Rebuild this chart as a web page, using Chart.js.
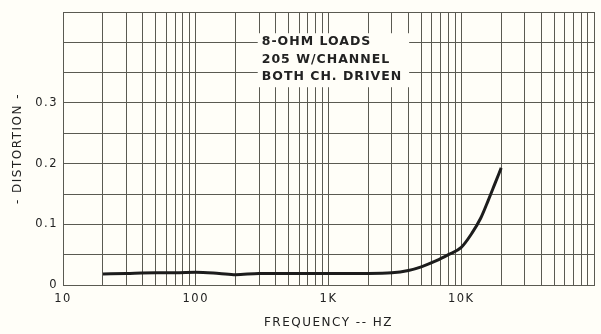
<!DOCTYPE html>
<html>
<head>
<meta charset="utf-8">
<script src="https://cdn.jsdelivr.net/npm/chart.js@4.4.1/dist/chart.umd.min.js"></script>
<style>
  html, body { margin: 0; padding: 0; background: #fffef8; }
  #wrap { width: 601px; height: 334px; position: relative; }
</style>
</head>
<body>
<div id="wrap"><canvas id="c" width="601" height="334"></canvas></div>
<script>
// ---- data ----
const freqHz = [20, 30, 50, 70, 100, 150, 200, 300, 500, 700, 1000, 1500, 2000, 3000, 4000, 5000, 6500, 8000, 10000, 12000, 14000, 16000, 18000, 20000];
const distortion = [0.018, 0.019, 0.020, 0.020, 0.021, 0.019, 0.017, 0.019, 0.019, 0.019, 0.019, 0.019, 0.019, 0.020, 0.024, 0.030, 0.040, 0.050, 0.062, 0.085, 0.110, 0.140, 0.168, 0.193];
const xTickValues = [10, 100, 1000, 10000];
const xTickLabels = ['10', '100', '1K', '10K'];
const yTickValues = [0, 0.1, 0.2, 0.3];
const yTickLabels = ['0', '0.1', '0.2', '0.3'];
const noteLines = ['8-OHM LOADS', '205 W/CHANNEL', 'BOTH CH. DRIVEN'];
const xTitle = 'FREQUENCY -- HZ';
const yTitle = '- DISTORTION -';

// grid lines of log paper: 1..9 per decade
const xGrid = [];
for (let d = 10; d < 100000; d *= 10) for (let m = 1; m < 10; m++) xGrid.push(m * d);
xGrid.push(100000);

const INK = '#222';
const GRID = '#5a5a52';
const FONT = 'DejaVu Sans';

const bgPlugin = {
  id: 'bg',
  beforeDraw(chart) {
    const ctx = chart.ctx;
    ctx.save();
    ctx.fillStyle = '#fffef8';
    ctx.fillRect(0, 0, chart.width, chart.height);
    ctx.restore();
    ctx.letterSpacing = '1.5px';
  },
  afterDraw(chart) { chart.ctx.letterSpacing = '0px'; }
};

const notePlugin = {
  id: 'note',
  afterDatasetsDraw(chart) {
    const ctx = chart.ctx;
    const xs = chart.scales.x, ys = chart.scales.y;
    const x0 = xs.getPixelForValue(293), x1 = xs.getPixelForValue(4050);
    const y0 = ys.getPixelForValue(0.415), y1 = ys.getPixelForValue(0.326);
    ctx.save();
    ctx.fillStyle = '#fffef8';
    ctx.fillRect(x0, y0, x1 - x0, y1 - y0);
    ctx.fillStyle = INK;
    ctx.font = 'bold 12.5px "' + FONT + '"';
    ctx.letterSpacing = '1px';
    ctx.textBaseline = 'middle';
    ctx.textAlign = 'left';
    noteLines.forEach((t, i) => ctx.fillText(t, x0 + 4, y0 + 9 + i * 17.5));
    ctx.restore();
  }
};

new Chart(document.getElementById('c'), {
  type: 'line',
  data: {
    datasets: [{
      data: freqHz.map((f, i) => ({ x: f, y: distortion[i] })),
      borderColor: '#1c1c1c',
      borderWidth: 3,
      pointRadius: 0,
      cubicInterpolationMode: 'monotone',
      fill: false
    }]
  },
  options: {
    responsive: false,
    animation: false,
    devicePixelRatio: 1,
    layout: { padding: { top: 12, right: 1, left: 0, bottom: 0 } },
    plugins: { legend: { display: false }, tooltip: { enabled: false } },
    scales: {
      x: {
        type: 'logarithmic',
        min: 10, max: 100000,
        afterBuildTicks(s) { s.ticks = xGrid.map(v => ({ value: v })); },
        afterFit(s) { s.height = 49; },
        grid: { color: GRID, lineWidth: 1, drawTicks: false },
        border: { color: GRID, width: 1 },
        ticks: {
          autoSkip: false, maxRotation: 0, minRotation: 0, padding: 7,
          color: INK, font: { family: FONT, size: 11.5 },
          callback(v) { const i = xTickValues.indexOf(v); return i >= 0 ? xTickLabels[i] : ''; }
        },
        title: {
          display: true, text: xTitle, color: INK,
          font: { family: FONT, size: 12 },
          padding: { top: 0, bottom: 4 }
        }
      },
      y: {
        min: 0, max: 0.45,
        afterBuildTicks(s) {
          const t = [];
          for (let k = 0; k <= 9; k++) t.push({ value: k * 0.05 });
          s.ticks = t;
        },
        afterFit(s) { s.width = 63; },
        grid: { color: GRID, lineWidth: 1, drawTicks: false },
        border: { color: GRID, width: 1 },
        ticks: {
          autoSkip: false, padding: 5,
          color: INK, font: { family: FONT, size: 11.5 },
          callback(v) {
            const i = yTickValues.findIndex(t => Math.abs(t - v) < 1e-9);
            return i >= 0 ? yTickLabels[i] : '';
          }
        },
        title: {
          display: true, text: yTitle, color: INK,
          font: { family: FONT, size: 12 },
          padding: { top: 11, bottom: 0 }
        }
      }
    }
  },
  plugins: [bgPlugin, notePlugin]
});
</script>
</body>
</html>
